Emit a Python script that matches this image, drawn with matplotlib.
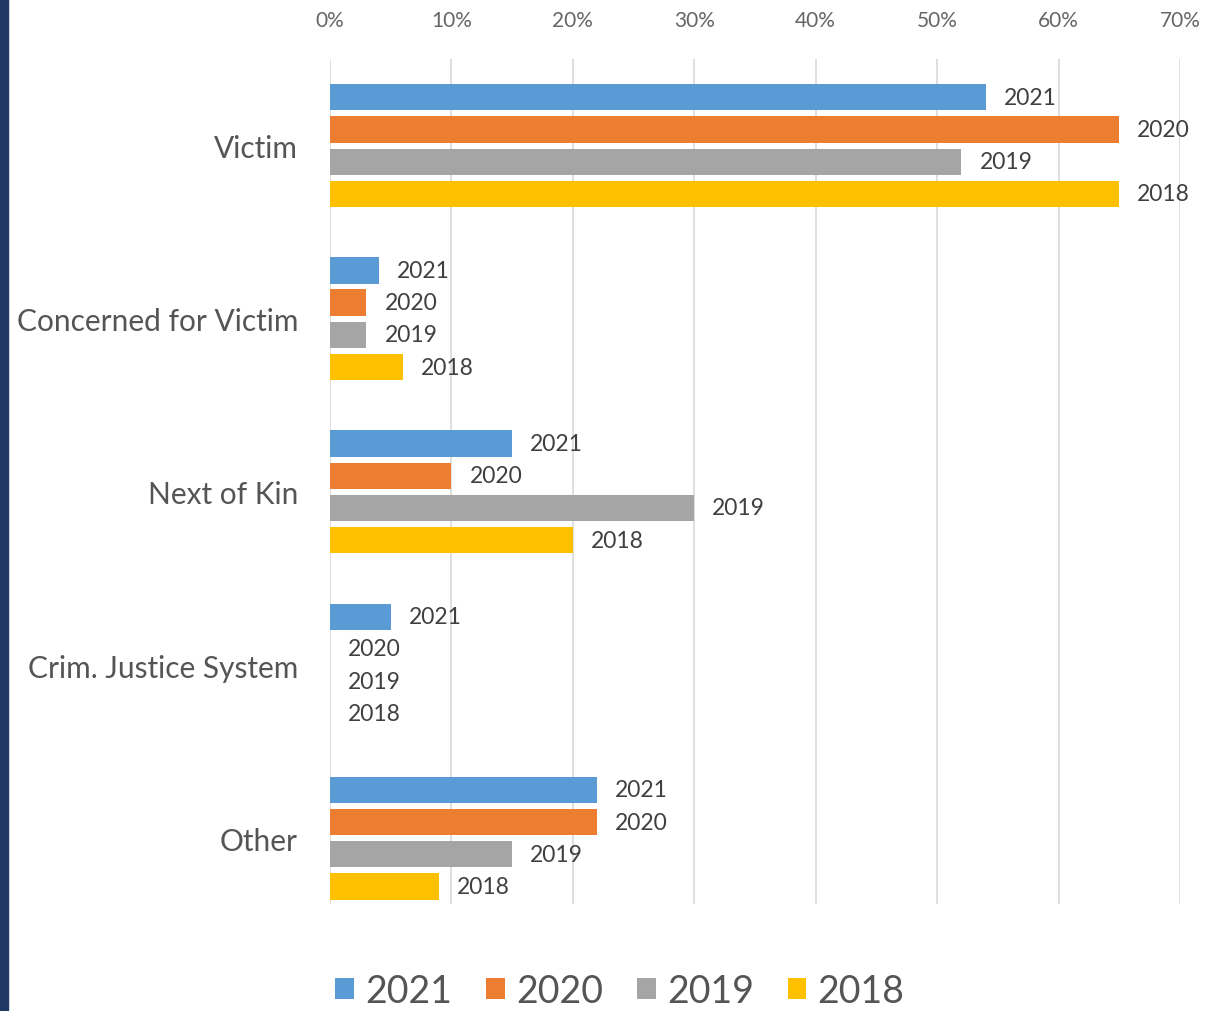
import matplotlib.pyplot as plt
import numpy as np
from matplotlib.patches import Rectangle

# categories top to bottom
categories = ['Victim', 'Concerned for Victim', 'Next of Kin', 'Crim. Justice System', 'Other']
years = ['2021', '2020', '2019', '2018']
colors = ['#5B9BD5', '#ED7D31', '#A5A5A5', '#FFC000']

# percent values per year
v2021 = [54, 4, 15, 5, 22]
v2020 = [65, 3, 10, 0, 22]
v2019 = [52, 3, 30, 0, 15]
v2018 = [65, 6, 20, 0, 9]
series = [v2021, v2020, v2019, v2018]

xticks = [0, 10, 20, 30, 40, 50, 60, 70]

plt.rcParams['font.family'] = ['Lato', 'DejaVu Sans']
txt = '#404040'

fig = plt.figure(figsize=(12.08, 10.12), dpi=100)
fig.patches.append(Rectangle((0, 0), 8 / 1208, 1, transform=fig.transFigure,
                             color='#1F3864', zorder=10))

ax = fig.add_axes([330 / 1208, 1 - 905 / 1012, 850 / 1208, 845 / 1012])

y = np.arange(len(categories))
h = 0.152
step = 0.186
for i, (vals, yr, c) in enumerate(zip(series, years, colors)):
    pos = y + (i - 1.5) * step
    ax.barh(pos, vals, height=h, color=c, label=yr, zorder=3)
    for p, v in zip(pos, vals):
        ax.annotate(yr, (v, p), xytext=(13, 0), textcoords='offset points',
                    va='center', ha='left', fontsize=16.5, color=txt)

ax.set_xlim(0, 70)
ax.set_ylim(4.38, -0.5)
ax.set_yticks(y)
ax.set_yticklabels(categories, fontsize=21.5, color='#555555')
ax.set_xticks(xticks)
ax.set_xticklabels([f'{t}%' for t in xticks], fontsize=15, color='#666666')
ax.xaxis.tick_top()
ax.tick_params(axis='both', length=0)
ax.tick_params(axis='x', pad=21)
ax.tick_params(axis='y', pad=23)
ax.grid(axis='x', color='#D9D9D9', lw=1.2, zorder=0)
for s in ax.spines.values():
    s.set_visible(False)

fig.legend(loc='center', bbox_to_anchor=(620 / 1208, 1 - 992 / 1012), ncol=4,
           frameon=False, fontsize=27, handlelength=0.5, handleheight=0.5,
           handletextpad=0.3, columnspacing=0.9, labelcolor='#555555')

fig.savefig('out.png', dpi=100)
